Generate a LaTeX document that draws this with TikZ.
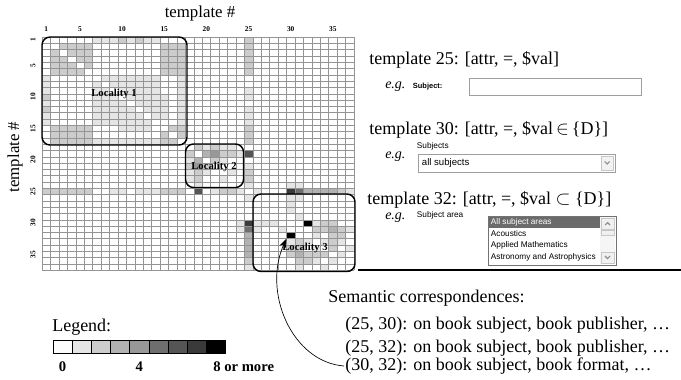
\documentclass[tikz,border=0pt]{standalone}
\usepackage{amssymb,amsmath}
\usepackage{fontspec}
\setmainfont{Liberation Serif}
\setsansfont{Liberation Sans}
\usepackage{pgf,tikz}
\usetikzlibrary{arrows.meta}

% grey levels of the matrix and of the legend
\definecolor{lv0}{RGB}{252,252,252}
\definecolor{lv1}{RGB}{229,229,229}
\definecolor{lv2}{RGB}{204,204,204}
\definecolor{lv3}{RGB}{178,178,178}
\definecolor{lv4}{RGB}{152,152,152}
\definecolor{lv5}{RGB}{110,110,110}
\definecolor{lv6}{RGB}{85,85,85}
\definecolor{lv7}{RGB}{58,58,58}
\definecolor{lv8}{RGB}{0,0,0}

% one cell (row, column, level) and its mirror cell
\newcommand{\symcell}[3]{%
  \fill[lv#3] ({42+(#2-1)*8.43},{37+(#1-1)*6.3}) rectangle ++(8.43,6.3);
  \fill[lv#3] ({42+(#1-1)*8.43},{37+(#2-1)*6.3}) rectangle ++(8.43,6.3);}

\begin{document}
\begin{tikzpicture}[x=0.75pt,y=0.75pt,yscale=-1,xscale=1,
  gridline/.style={draw=black!42,line width=0.3pt},
  locbox/.style={draw=black,line width=1.1pt,rounded corners=6pt},
  loclabel/.style={font=\fontsize{8}{9}\selectfont\bfseries,inner sep=0.75pt},
  tick/.style={font=\fontsize{5.5}{6}\selectfont\bfseries,inner sep=0.5pt},
  axis/.style={font=\fontsize{12.6}{14}\selectfont,inner sep=0.75pt},
  bigtxt/.style={font=\fontsize{13.5}{16}\selectfont,anchor=west,inner sep=0.75pt},
  egtxt/.style={font=\fontsize{10.5}{12}\selectfont\itshape,anchor=west,inner sep=0.75pt},
  smallsf/.style={font=\sffamily\fontsize{6.2}{7}\selectfont,anchor=west,inner sep=0.5pt},
  widget/.style={draw=black!38,fill=white,line width=0.6pt},
  legnum/.style={font=\fontsize{11}{13}\selectfont\bfseries,inner sep=0.75pt}]
\useasboundingbox (0,0) rectangle (681,379);

%Matrix cells
\foreach \rw in {7,...,14}{\foreach \cl in {7,...,14}{\ifnum\rw<\cl \symcell{\rw}{\cl}{1}\fi}}
\foreach \rw in {2,3,4,5,6,15,16,17}{\foreach \cl in {2,3,4,5,6,15,16,17}{\ifnum\rw<\cl \symcell{\rw}{\cl}{2}\fi}}
\foreach \cl/\lv in {7/1,8/1,9/1,10/2,11/1,12/2,13/1,14/1,25/2}{\symcell{1}{\cl}{\lv}}
\foreach \rw in {7,...,14}{\symcell{\rw}{17}{1}}
\foreach \rw in {10,...,13}{\symcell{\rw}{15}{1}}
\foreach \rw/\lv in {2/2,3/2,4/2,5/2,6/2,9/1,10/1,12/1,13/1,14/1,15/2,16/2,17/2,19/6,21/1,22/2,23/2,24/1,26/1,30/7,31/5,32/3,33/3,34/3,35/3,36/2,37/1}{\symcell{\rw}{25}{\lv}}
\foreach \rw/\cl/\lv in {18/19/2,18/20/1,18/21/2,18/22/1,18/23/1,19/20/3,19/21/4,19/22/2,19/23/2,19/24/1,20/21/2,20/22/1,22/23/1}{\symcell{\rw}{\cl}{\lv}}
\foreach \rw/\cl/\lv in {26/30/1,27/30/1,28/30/1,26/31/1,29/31/1,30/33/1,30/34/2,30/35/2,31/33/2,31/34/2,31/35/3,31/36/2,31/37/1,32/33/1,32/35/2,32/36/2,33/34/1,33/35/2,33/36/1,34/35/2,34/37/1,35/36/1,24/30/1,24/31/1,30/32/8}{\symcell{\rw}{\cl}{\lv}}

%Grid
\foreach \i in {0,...,37}{
  \draw[gridline] ({42+\i*8.43},37) -- ({42+\i*8.43},270.1);
  \draw[gridline] (42,{37+\i*6.3}) -- (353.9,{37+\i*6.3});}
\coordinate (cell3032) at ({42+29*8.43},{37+32*6.3});

%Tick labels
\foreach \n in {1,5,10,15,20,25,30,35}{
  \node[tick] (ct\n) at ({42+(\n-0.5)*8.43},29) {\n};
  \node[tick,rotate=90] (rt\n) at (33,{37+(\n-0.5)*6.3}) {\n};}

% Text Node
\node[axis] (xtitle) at (200,13) {template \#};
% Text Node
\node[axis,rotate=90] (ytitle) at (15,157) {template \#};

%Rounded Rect
\draw[locbox] (42,37) rectangle (187,145);
\draw[locbox] (185.5,144) rectangle (243.5,187.5);
\draw[locbox] (253,194) rectangle (355,271.5);
\node[loclabel] (loc1) at (114,94) {Locality 1};
\node[loclabel] (loc2) at (214,167) {Locality 2};
\node[loclabel] (loc3) at (305,248) {Locality 3};

% Text Node
\node[bigtxt] (t25) at (368,60) {template 25: [attr, =, \$val]};
\node[egtxt] (eg25) at (384,87) {e.g.};
\node[smallsf,font=\sffamily\bfseries\fontsize{5.6}{7}\selectfont] (lab25) at (412,87) {Subject:};
\draw[widget] (469,78) rectangle (641,95);

% Text Node
\node[bigtxt] (t30) at (368,130) {template 30: [attr, =, \$val\,$\in$\,\{D\}]};
\node[egtxt] (eg30) at (384,157) {e.g.};
\node[smallsf] (lab30) at (416,146) {Subjects};
\draw[widget] (418,154) rectangle (615,172);
\node[smallsf,font=\sffamily\fontsize{7.2}{8}\selectfont] (sel30) at (421,163) {all subjects};
\draw[draw=black!22,fill=black!5] (601,156) rectangle (613,170);
\draw[black!45,line width=0.8pt] (604.5,161.5) -- (607,164) -- (609.5,161.5);

% Text Node
\node[bigtxt] (t32) at (366,200) {template 32: [attr, =, \$val $\subset$ \{D\}]};
\node[egtxt] (eg32) at (384,218) {e.g.};
\node[smallsf] (lab32) at (416,215) {Subject area};
\draw[draw=black!55,fill=white,line width=0.6pt] (488,216) rectangle (616,265);
\fill[black!58] (489,217) rectangle (600,228);
\node[smallsf,text=white] (it1) at (490,222.5) {All subject areas};
\node[smallsf] (it2) at (490,234) {Acoustics};
\node[smallsf] (it3) at (490,245.5) {Applied Mathematics};
\node[smallsf] (it4) at (490,257) {Astronomy and Astrophysics};
\fill[black!4] (600,217) rectangle (615,264);
\draw[draw=black!22,fill=black!6] (601,218) rectangle (614,229);
\draw[draw=black!22,fill=black!6] (601,230) rectangle (614,235);
\draw[draw=black!22,fill=black!6] (601,252) rectangle (614,263);
\draw[black!45,line width=0.8pt] (605,225) -- (607.5,222.5) -- (610,225);
\draw[black!45,line width=0.8pt] (605,256) -- (607.5,258.5) -- (610,256);

%Straight Lines
\draw[line width=0.9pt] (358,270) -- (681,270);

% Text Node
\node[bigtxt] (sem) at (327,298) {Semantic correspondences:};
\node[bigtxt] (c2530) at (344,325) {(25, 30): on book subject, book publisher, \dots};
\node[bigtxt] (c2532) at (344,348) {(25, 32): on book subject, book publisher, \dots};
\node[bigtxt] (c3032) at (344,366) {(30, 32): on book subject, book format, \dots};

%Curve Lines
\draw[line width=0.5pt,-{Stealth[length=7pt,width=5pt]}] (c3032.west) .. controls (292,362) and (262,292) .. (cell3032);

% Legend
\node[bigtxt] (legend) at (51,327) {Legend:};
\foreach \lv in {0,...,8}{\draw[line width=0.7pt,fill=lv\lv] ({53+\lv*19.2},340) rectangle ++(19.2,13);}
\node[legnum] (l0) at (62.6,367) {0};
\node[legnum] (l4) at (139.4,367) {4};
\node[legnum,anchor=west] (l8) at (212,367) {8 or more};

\end{tikzpicture}
\end{document}
